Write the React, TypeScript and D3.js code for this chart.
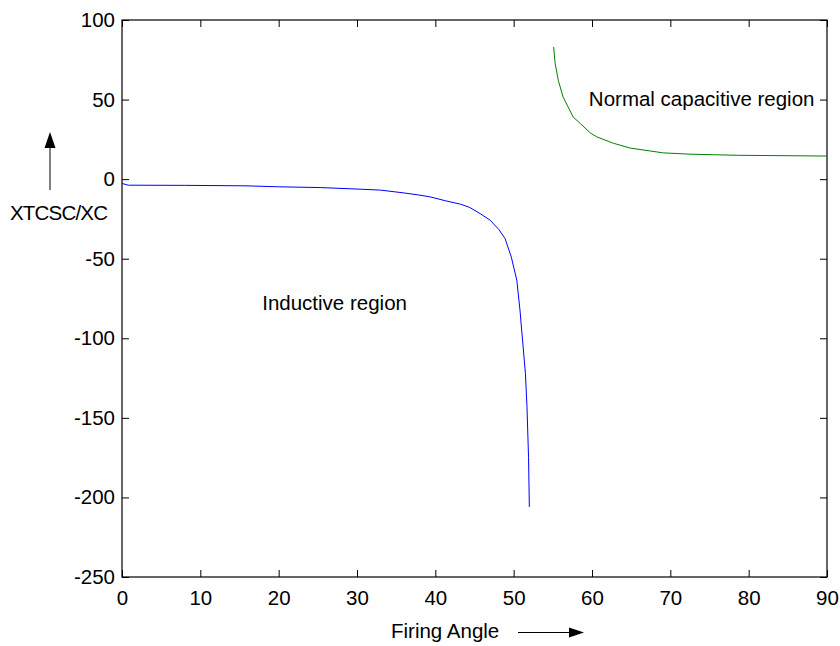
import React, { useEffect, useRef } from 'react';
import * as d3 from 'd3';

// inductive branch (firing angle in degrees, XTCSC/XC)
const inductiveAngle = [0, 0.8, 8, 15.7, 20, 25.3, 30.4, 33, 35.9, 37.8, 39.3, 41.3, 43.2, 44.4, 45.7, 47, 48.1, 48.9, 49.4, 49.7, 50.4, 50.8, 51.2, 51.5, 51.7, 51.9, 52.0];
const inductiveValue = [-2.7, -3.8, -3.9, -4.2, -4.8, -5.3, -6.3, -6.9, -8.6, -9.9, -11.1, -13.6, -15.7, -17.8, -21.6, -25.8, -31.6, -37.3, -44.6, -49, -63.5, -82, -105, -122, -143, -175, -206];

// capacitive branch
const capacitiveAngle = [55.1, 55.3, 55.7, 56.3, 57.6, 58.5, 59.8, 60.6, 62.7, 64.9, 69.1, 72.5, 78.5, 90];
const capacitiveValue = [83, 72.6, 62, 51.7, 39, 35, 29, 26.6, 22.6, 19.5, 16.5, 15.7, 15, 14.5];

const xTicks = [0, 10, 20, 30, 40, 50, 60, 70, 80, 90];
const yTicks = [-250, -200, -150, -100, -50, 0, 50, 100];

const W = 840;
const H = 646;
const FONT = '"Liberation Sans", Arial, sans-serif';
const FS = 20.5;

export default function App() {
  const svgRef = useRef<SVGSVGElement>(null);

  useEffect(() => {
    const svg = d3.select(svgRef.current);
    svg.selectAll('*').remove();

    const left = 122, right = 827, top = 20, bottom = 577;
    const x = d3.scaleLinear().domain([0, 90]).range([left, right]);
    const y = d3.scaleLinear().domain([-250, 100]).range([bottom, top]);

    const style = (g) => {
      g.select('.domain').remove();
      g.selectAll('line').attr('stroke', '#000');
      g.selectAll('text').attr('font-family', FONT).attr('font-size', FS).attr('fill', '#000');
    };
    const plain = (d) => String(d); // hyphen minus, as in the original

    // ticks on all four sides, pointing inward
    svg.append('g').attr('transform', `translate(0,${bottom})`)
      .call(d3.axisBottom(x).tickValues(xTicks).tickSizeInner(-7).tickSizeOuter(0).tickPadding(13).tickFormat(plain))
      .call(style);
    svg.append('g').attr('transform', `translate(${left},0)`)
      .call(d3.axisLeft(y).tickValues(yTicks).tickSizeInner(-7).tickSizeOuter(0).tickPadding(7).tickFormat(plain))
      .call(style);
    svg.append('g').attr('transform', `translate(0,${top})`)
      .call(d3.axisTop(x).tickValues(xTicks).tickSizeInner(-7).tickSizeOuter(0).tickFormat(() => ''))
      .call(style);
    svg.append('g').attr('transform', `translate(${right},0)`)
      .call(d3.axisRight(y).tickValues(yTicks).tickSizeInner(-7).tickSizeOuter(0).tickFormat(() => ''))
      .call(style);

    svg.append('rect')
      .attr('x', left).attr('y', top)
      .attr('width', right - left).attr('height', bottom - top)
      .attr('fill', 'none').attr('stroke', '#000').attr('stroke-width', 1.2);

    const ind = inductiveAngle.map((a, i) => [x(a), y(inductiveValue[i])] as [number, number]);
    const cap = capacitiveAngle.map((a, i) => [x(a), y(capacitiveValue[i])] as [number, number]);

    svg.append('path').attr('d', d3.line()(ind)).attr('fill', 'none').attr('stroke', '#0000ff').attr('stroke-width', 1);
    svg.append('path').attr('d', d3.line()(cap)).attr('fill', 'none').attr('stroke', '#008000').attr('stroke-width', 1);

    // region labels
    svg.append('text').attr('x', x(17.9)).attr('y', y(-82.3))
      .attr('font-family', FONT).attr('font-size', FS).text('Inductive region');
    svg.append('text').attr('x', x(59.6)).attr('y', y(45.9))
      .attr('font-family', FONT).attr('font-size', FS).text('Normal capacitive region');

    // axis titles with arrows
    svg.append('text').attr('x', 10).attr('y', 220)
      .attr('font-family', FONT).attr('font-size', FS).attr('letter-spacing', -0.8).text('XTCSC/XC');
    svg.append('line').attr('x1', 50).attr('y1', 190).attr('x2', 50).attr('y2', 145)
      .attr('stroke', '#000').attr('stroke-width', 1);
    svg.append('path').attr('d', 'M50,132 L44.5,148 L55.5,148 Z').attr('fill', '#000');

    svg.append('text').attr('x', 391).attr('y', 638)
      .attr('font-family', FONT).attr('font-size', FS).text('Firing Angle');
    svg.append('line').attr('x1', 518).attr('y1', 632.5).attr('x2', 572).attr('y2', 632.5)
      .attr('stroke', '#000').attr('stroke-width', 1);
    svg.append('path').attr('d', 'M584,632.5 L569,627.5 L569,637.5 Z').attr('fill', '#000');
  }, []);

  return (
    <svg ref={svgRef} width={W} height={H}
      style={{ position: 'absolute', left: 0, top: 0, background: '#fff' }} />
  );
}
